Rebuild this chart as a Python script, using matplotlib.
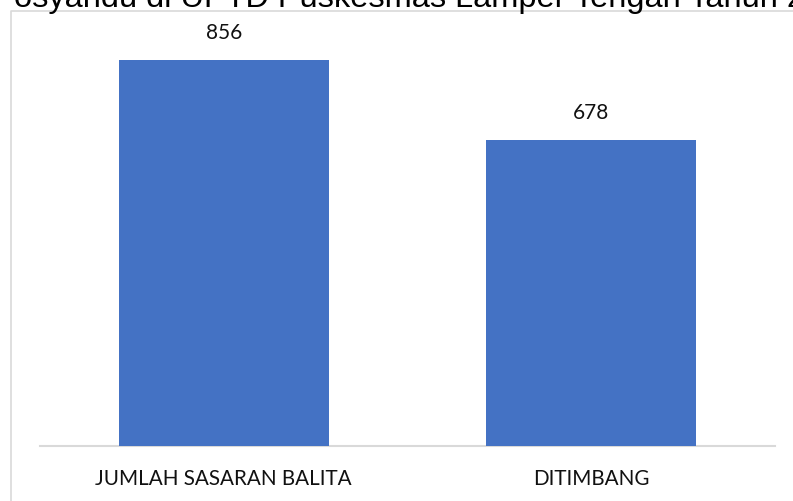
import matplotlib
matplotlib.use("Agg")
import matplotlib.pyplot as plt
from matplotlib.lines import Line2D

# data
categories = ["JUMLAH SASARAN BALITA", "DITIMBANG"]
values = [856, 678]
title_text = "osyandu di UPTD Puskesmas Lamper Tengah Tahun 2021"

W, H = 793, 501
fig = plt.figure(figsize=(W / 100, H / 100), dpi=100)

# chart frame (only top and left edges are inside the crop)
fig.add_artist(Line2D([10.5 / W, 10.5 / W, 1.0], [0.0, 1 - 10.5 / H, 1 - 10.5 / H],
                      transform=fig.transFigure, color="#D9D9D9", lw=1.2))

# title, cut off by the top edge like in the source screenshot
fig.text(14 / W, 1 - 7.5 / H, title_text, family="Liberation Sans", fontsize=23.4,
         va="baseline", ha="left", color="black")

ymax = 900
px_per_unit = 386 / 856
ax_bottom = 445.5
ax_h = ymax * px_per_unit
ax = fig.add_axes([40 / W, (H - ax_bottom) / H, 735 / W, ax_h / H])

x = range(len(categories))
bars = ax.bar(x, values, width=0.572, color="#4472C4", zorder=2)
ax.set_xlim(-0.5, len(categories) - 0.5)
ax.set_ylim(0, ymax)

for b, v in zip(bars, values):
    ax.annotate(str(v), (b.get_x() + b.get_width() / 2, v), xytext=(0, 12),
                textcoords="offset points", ha="center", va="bottom",
                family="Lato", fontsize=15, color="#111111")

ax.set_xticks(list(x))
ax.set_xticklabels(categories, family="Lato", fontsize=14.9, color="#111111")
ax.tick_params(axis="x", length=0, pad=17)
ax.set_yticks([])
for s in ["top", "right", "left"]:
    ax.spines[s].set_visible(False)
ax.spines["bottom"].set_color("#D9D9D9")
ax.spines["bottom"].set_linewidth(1.5)
ax.spines["bottom"].set_zorder(1)

fig.savefig("out.png", dpi=100)
